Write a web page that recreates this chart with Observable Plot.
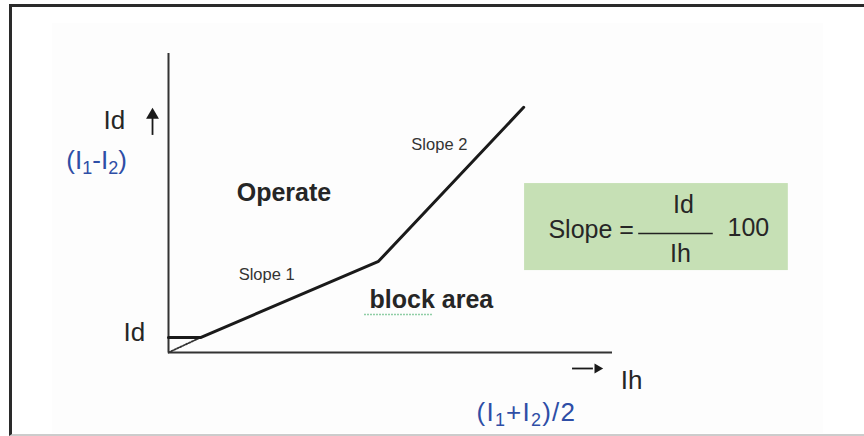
<!DOCTYPE html>
<html>
<head>
<meta charset="utf-8">
<script src="https://cdn.jsdelivr.net/npm/d3@7"></script>
<script src="https://cdn.jsdelivr.net/npm/@observablehq/plot@0.6"></script>
<style>
  html, body { margin: 0; padding: 0; background: #ffffff; }
  #wrap { position: relative; width: 864px; height: 436px; overflow: hidden; }
  #shade { position: absolute; left: 52px; top: 23px; width: 771px; height: 410px; background: #fdfdfd; }
  #frame { position: absolute; left: 9px; top: 4px; width: 860px; height: 427px;
           border-top: 3px solid #2a2a2a; border-left: 3px solid #2a2a2a; border-bottom: 2px solid #cccccc; }
  #chart { position: absolute; left: 0; top: 0; }
  svg { display: block; }
</style>
</head>
<body>
<div id="wrap"><div id="shade"></div><div id="frame"></div><div id="chart"></div></div>
<script>
// Tripping characteristic (Ih = restraint, Id = differential), in diagram units
const ihPoints = [0, 0.72, 4.73, 8.0];
const idPoints = [0.5, 0.5, 3.05, 8.2];

// dotted extension from origin to the pickup point
const dottedIh = [0, 0.72];
const dottedId = [0, 0.5];

// axis extents
const axisMax = [10, 10];

// labels
const labelText = ["Id", "(I₁-I₂)", "Id", "Ih", "(I₁+I₂)/2", "Operate", "block area", "Slope 1", "Slope 2"];
const labelIh   = [-1.22, -1.62, -0.77, 10.43, 8.06, 2.60, 5.92, 2.21, 6.10];
const labelId   = [7.76, 6.42, 0.67, -0.94, -2.02, 5.35, 1.74, 2.61, 6.96];
const labelKind = ["axis", "formula", "axis", "axis", "formula", "region", "region", "slope", "slope"];

// spell-check squiggle under "block"
const squiggleIh = [4.42, 5.96];
const squiggleId = 1.27;

// slope formula box
const boxIh = [8.02, 13.96];
const boxId = [2.74, 5.65];
const formulaText = ["Slope =", "Id", "Ih", "100"];
const formulaIh = [9.52, 11.60, 11.53, 13.06];
const formulaId = [4.11, 4.92, 3.28, 4.18];
const fractionIh = [10.59, 12.27];
const fractionId = 3.98;

// axis direction arrows: shaft start/end and head position
const upArrow = {ih: -0.36, from: 7.26, to: 7.9, head: 7.94};
const rightArrow = {id: -0.535, from: 9.10, to: 9.57, head: 9.66};

const curve = ihPoints.map((x, i) => ({ih: x, id: idPoints[i]}));
const dotted = dottedIh.map((x, i) => ({ih: x, id: dottedId[i]}));
const labels = labelText.map((t, i) => ({text: t, ih: labelIh[i], id: labelId[i], kind: labelKind[i]}));
const formula = formulaText.map((t, i) => ({text: t, ih: formulaIh[i], id: formulaId[i]}));

const font = "'Liberation Sans', Arial, Helvetica, sans-serif";
const ink = "#262626";
const blue = "#2e4ea6";

const plot = Plot.plot({
  width: 864,
  height: 436,
  marginLeft: 168,
  marginRight: 252,
  marginTop: 53,
  marginBottom: 84,
  x: {domain: [0, axisMax[0]], axis: null},
  y: {domain: [0, axisMax[1]], axis: null},
  style: {fontFamily: font, background: "transparent", overflow: "visible"},
  marks: [
    Plot.rect([{}], {x1: boxIh[0], x2: boxIh[1], y1: boxId[0], y2: boxId[1], fill: "#c6e0b5"}),
    Plot.ruleX([0], {y1: 0, y2: axisMax[1], stroke: "#333", strokeWidth: 2}),
    Plot.ruleY([0], {x1: 0, x2: axisMax[0], stroke: "#333", strokeWidth: 2}),
    Plot.line(dotted, {x: "ih", y: "id", stroke: "#333", strokeWidth: 1.8, strokeDasharray: "1.6,1.6"}),
    Plot.line(curve, {x: "ih", y: "id", stroke: "#1a1a1a", strokeWidth: 3, strokeLinejoin: "miter"}),
    // axis arrows
    Plot.ruleX([upArrow.ih], {y1: upArrow.from, y2: upArrow.to, stroke: "#1a1a1a", strokeWidth: 1.8}),
    Plot.dot([upArrow], {x: "ih", y: "head", symbol: "triangle", r: 4.8, fill: "#1a1a1a", stroke: "none"}),
    Plot.ruleY([rightArrow.id], {x1: rightArrow.from, x2: rightArrow.to, stroke: "#1a1a1a", strokeWidth: 1.8}),
    Plot.dot([rightArrow], {x: "head", y: "id", symbol: "triangle", r: 3.7, rotate: 90, fill: "#1a1a1a", stroke: "none"}),
    // squiggle
    Plot.ruleY([squiggleId], {x1: squiggleIh[0], x2: squiggleIh[1], stroke: "#6cbf8a", strokeWidth: 1.6, strokeDasharray: "1.5,1.5"}),
    // labels
    Plot.text(labels.filter(d => d.kind === "axis"), {x: "ih", y: "id", text: "text", fontSize: 26, fill: ink}),
    Plot.text(labels.filter(d => d.kind === "formula"), {x: "ih", y: "id", text: "text", fontSize: 26, fill: blue}),
    Plot.text(labels.filter(d => d.kind === "region"), {x: "ih", y: "id", text: "text", fontSize: 25, fontWeight: "bold", fill: ink}),
    Plot.text(labels.filter(d => d.kind === "slope"), {x: "ih", y: "id", text: "text", fontSize: 16.5, fill: "#333"}),
    Plot.text(formula, {x: "ih", y: "id", text: "text", fontSize: 25, fill: ink}),
    Plot.ruleY([fractionId], {x1: fractionIh[0], x2: fractionIh[1], stroke: "#222", strokeWidth: 1.5})
  ]
});

// typeset subscripts as smaller, lowered digits
const subMap = {"₁": "1", "₂": "2"};
d3.select(plot).selectAll("text").each(function() {
  const s = this.textContent;
  if (!/[₁₂]/.test(s)) return;
  const el = d3.select(this);
  el.text(null);
  if (s.endsWith("/2")) el.style("letter-spacing", "1.2px");
  let prevSub = false;
  for (const ch of s) {
    const isSub = ch in subMap;
    const ts = el.append("tspan").text(isSub ? subMap[ch] : ch);
    if (isSub) { ts.attr("font-size", "18"); if (!prevSub) ts.attr("dy", "5"); }
    else if (prevSub) ts.attr("dy", "-5");
    prevSub = isSub;
  }
});
document.getElementById("chart").appendChild(plot);
</script>
</body>
</html>
